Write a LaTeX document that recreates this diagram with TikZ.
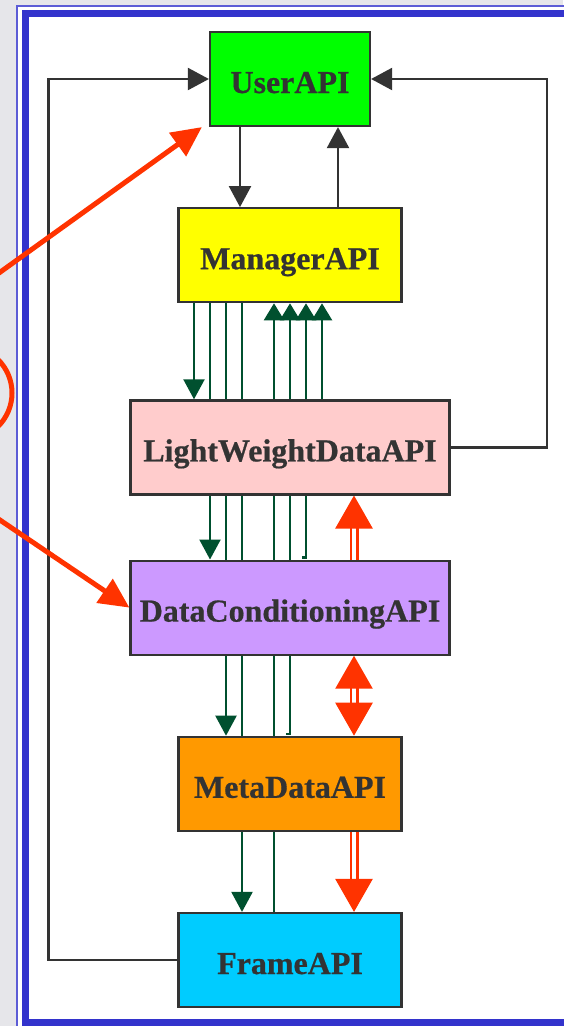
\documentclass[tikz,border=0pt]{standalone}
\usepackage{fontspec}
\setmainfont{Liberation Serif}[BoldFeatures={FakeBold=0.6}]
\usepackage{tikz}
\usetikzlibrary{arrows.meta}
\usetikzlibrary{positioning}
\usetikzlibrary{backgrounds}
\definecolor{Ink}{HTML}{333333}
\definecolor{Border}{HTML}{3333CC}
\definecolor{Paper}{HTML}{E6E6EA}
\definecolor{Flow}{HTML}{00502F}
\definecolor{Alert}{HTML}{FF3300}
\definecolor{UserCol}{HTML}{00FF00}
\definecolor{MgrCol}{HTML}{FFFF00}
\definecolor{LwCol}{HTML}{FFCCCC}
\definecolor{DcCol}{HTML}{CC99FF}
\definecolor{MdCol}{HTML}{FF9900}
\definecolor{FrCol}{HTML}{00CCFF}

\tikzset{
  api/.style={draw=Ink, line width=2.2pt, text=Ink, minimum height=94pt, inner sep=0pt,
    text height=28pt, text depth=0pt, font=\fontsize{32}{36}\selectfont\bfseries},
  link/.style={draw=Ink, line width=2.2pt, -{Triangle[length=21pt,width=22pt]}},
  flow/.style={draw=Flow, line width=2.2pt},
  down/.style={flow, -{Triangle[length=20pt,width=21pt]}},
  up/.style={flow, -{Triangle[length=17pt,width=20pt]}},
  dbl/.style={draw=Alert, double=white, double distance=4pt, line width=2.5pt},
  pointer/.style={draw=Alert, line width=5pt, -{Triangle[length=30pt,width=28pt]}}
}

\begin{document}
\begin{tikzpicture}[x=1pt, y=-1pt]
        \useasboundingbox (0,0) rectangle (563,1026);

        % the API boxes, top to bottom
        \node[api, fill=UserCol, minimum width=160pt] (user) at (290,79) {UserAPI};
        \node[api, fill=MgrCol, minimum width=223pt, below=80pt of user] (mgr) {ManagerAPI};
        \node[api, fill=LwCol, minimum width=319pt, below=96pt of mgr] (lw) {LightWeightDataAPI};
        \node[api, fill=DcCol, minimum width=319pt, below=64pt of lw] (dc) {DataConditioningAPI};
        \node[api, fill=MdCol, minimum width=223pt, below=80pt of dc] (md) {MetaDataAPI};
        \node[api, fill=FrCol, minimum width=223pt, below=80pt of md] (fr) {FrameAPI};

        \begin{scope}[on background layer]
        % slide frame
        \fill[Paper] (0,0) rectangle (563,1026);
        \draw[Border!80, line width=2pt, fill=white] (16.5,5.5) rectangle (620,1080);
        \draw[Border, line width=7pt] (25,13) rectangle (610,1022);

        % user <-> manager and the two loops
        \draw[link] ([xshift=-50pt]user.south) -- ([xshift=-50pt]mgr.north);
        \draw[link] ([xshift=48pt]mgr.north) -- ([xshift=48pt]user.south);
        \draw[link] (fr.west) -- ++(-129pt,0) |- (user.west);
        \draw[link] (lw.east) -- ++(96pt,0) |- (user.east);

        % manager calls down
        \draw[down] ([xshift=-96pt]mgr.south) -- ([xshift=-96pt]lw.north);
        \draw[down] ([xshift=-80pt]mgr.south) -- ([xshift=-80pt]dc.north);
        \draw[down] ([xshift=-64pt]mgr.south) -- ([xshift=-64pt]md.north);
        \draw[down] ([xshift=-48pt]mgr.south) -- ([xshift=-48pt]fr.north);
        % and the answers coming up
        \draw[up] ([xshift=32pt]lw.north) -- ([xshift=32pt]mgr.south);
        \draw[up] ([xshift=12pt,yshift=2pt]dc.north) -| ([xshift=16pt]mgr.south);
        \draw[up] ([xshift=-4pt,yshift=2pt]md.north) -| (mgr.south);
        \draw[up] ([xshift=-16pt]fr.north) -- ([xshift=-16pt]mgr.south);

        % data path (red)
        \draw[dbl, -{Triangle[length=33pt,width=37pt]}] ([xshift=64pt]dc.north) -- ([xshift=64pt]lw.south);
        \draw[dbl, {Triangle[length=33pt,width=37pt]}-{Triangle[length=33pt,width=37pt]}] ([xshift=64pt]dc.south) -- ([xshift=64pt]md.north);
        \draw[dbl, -{Triangle[length=33pt,width=37pt]}] ([xshift=64pt]md.south) -- ([xshift=64pt]fr.north);
        \end{scope}

        % pointers coming in from the left
        \begin{scope}
        \clip (0,0) rectangle (563,1026);
        \coordinate (from1) at (-40,301);
        \coordinate (from2) at (-40,493);
        \draw[pointer] (from1) -- ([xshift=-7pt]user.south west);
        \draw[pointer] (from2) -- (dc.west);
        \draw[Alert, line width=5pt] (-35,393) circle[radius=47pt];
        \end{scope}
\end{tikzpicture}
\end{document}
